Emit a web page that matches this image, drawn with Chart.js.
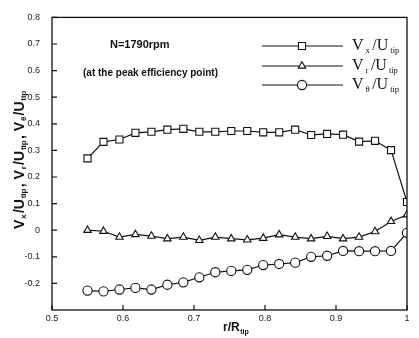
<!DOCTYPE html>
<html>
<head>
<meta charset="utf-8">
<script src="https://cdn.jsdelivr.net/npm/chart.js@4/dist/chart.umd.min.js"></script>
<style>
  html, body { margin: 0; padding: 0; background: #fff; }
  #wrap { width: 419px; height: 338px; }
</style>
</head>
<body>
<div id="wrap"><canvas id="profileChart" width="419" height="338"></canvas></div>
<script>
// radial stations r/R_tip
const radius = [0.55, 0.5725, 0.595, 0.6175, 0.64, 0.6625, 0.685, 0.7075, 0.73, 0.7525,
    0.775, 0.7975, 0.82, 0.8425, 0.865, 0.8875, 0.91, 0.9325, 0.955, 0.9775, 1.0];

// axial velocity Vx/Utip
const vx = [0.27, 0.332, 0.341, 0.366, 0.37, 0.378, 0.381, 0.37, 0.37, 0.373,
    0.373, 0.368, 0.368, 0.378, 0.358, 0.362, 0.359, 0.333, 0.336, 0.301, 0.106];

// radial velocity Vr/Utip
const vr = [0.0, -0.004, -0.026, -0.016, -0.022, -0.032, -0.026, -0.038, -0.026, -0.032,
    -0.036, -0.03, -0.017, -0.026, -0.032, -0.023, -0.032, -0.026, -0.005, 0.033, 0.058];

// tangential velocity Vtheta/Utip
const vt = [-0.227, -0.23, -0.223, -0.217, -0.223, -0.205, -0.196, -0.177, -0.158, -0.153,
    -0.149, -0.131, -0.127, -0.122, -0.1, -0.096, -0.078, -0.079, -0.079, -0.078, -0.01];

const xTicks = [0.5, 0.6, 0.7, 0.8, 0.9, 1];
const yTicks = [-0.2, -0.1, 0, 0.1, 0.2, 0.3, 0.4, 0.5, 0.6, 0.7, 0.8];

const seriesNames = [
    [['V', 0], ['x', 1], ['/U', 0], ['tip', 1]],
    [['V', 0], ['r', 1], ['/U', 0], ['tip', 1]],
    [['V', 0], ['\u03b8', 1], ['/U', 0], ['tip', 1]]
];
const pointStyles = ['rect', 'triangle', 'circle'];
const pointSizes = [5, 4.3, 4.6];

const ink = '#111';

function toPoints(ys) {
    return radius.map((r, i) => ({ x: r, y: ys[i] }));
}

// draw text with subscript pieces; returns width
function drawSub(ctx, parts, x, y, big, small, family, weight, gap) {
    let cx = x;
    parts.forEach(([t, sub]) => {
        ctx.font = (weight || '') + ' ' + (sub ? small : big) + 'px ' + family;
        ctx.fillText(t, cx, sub ? y + big * 0.3 : y);
        cx += ctx.measureText(t).width + (gap || 0) + (sub ? 0.5 : 0);
    });
    return cx - x;
}

const decorPlugin = {
    id: 'decor',
    afterDraw(chart) {
        const ctx = chart.ctx;
        const a = chart.chartArea;
        const xs = chart.scales.x, ys = chart.scales.y;
        ctx.save();
        ctx.strokeStyle = ink;
        ctx.lineWidth = 1.3;
        ctx.strokeRect(a.left, a.top, a.right - a.left, a.bottom - a.top);

        // inward tick marks
        ctx.lineWidth = 1.2;
        ctx.beginPath();
        xTicks.forEach(v => {
            const px = xs.getPixelForValue(v);
            ctx.moveTo(px, a.bottom); ctx.lineTo(px, a.bottom - 5);
        });
        yTicks.forEach(v => {
            const py = ys.getPixelForValue(v);
            ctx.moveTo(a.left, py); ctx.lineTo(a.left + 5, py);
        });
        ctx.stroke();

        // annotation text
        ctx.fillStyle = ink;
        ctx.textBaseline = 'middle';
        ctx.textAlign = 'left';
        ctx.font = 'bold 11px "Liberation Sans", Arial, sans-serif';
        ctx.fillText('N=1790rpm', 110, 45);
        ctx.font = 'bold 10px "Liberation Sans", Arial, sans-serif';
        ctx.fillText('(at the peak efficiency point)', 83, 73);

        // legend
        const rows = [46, 66, 85];
        rows.forEach((ry, i) => {
            ctx.strokeStyle = ink;
            ctx.lineWidth = 1;
            ctx.beginPath();
            ctx.moveTo(262, ry); ctx.lineTo(343, ry);
            ctx.stroke();
            ctx.fillStyle = '#fff';
            ctx.lineWidth = 1.1;
            Chart.helpers.drawPoint(ctx, {
                pointStyle: pointStyles[i], radius: pointSizes[i], borderWidth: 1.1
            }, 302, ry);
            ctx.fillStyle = ink;
            ctx.textBaseline = 'middle';
            drawSub(ctx, seriesNames[i], 352, ry, 16, 8.5, '"Liberation Serif", "Times New Roman", serif', '', 2);
        });

        // x axis title
        ctx.textBaseline = 'middle';
        drawSub(ctx, [['r/R', 0], ['tip', 1]], 223, 328, 12, 7, '"Liberation Sans", Arial, sans-serif', 'bold', 0.5);

        // y axis title, rotated
        ctx.save();
        ctx.translate(20, 229);
        ctx.rotate(-Math.PI / 2);
        const yTitle = [['V', 0], ['x', 1], ['/U', 0], ['tip', 1], [', V', 0], ['r', 1], ['/U', 0], ['tip', 1],
            [', V', 0], ['\u03b8', 1], ['/U', 0], ['tip', 1]];
        drawSub(ctx, yTitle, 0, 0, 14, 8, '"Liberation Sans", Arial, sans-serif', 'bold', 0.8);
        ctx.restore();
        ctx.restore();
    }
};

const ctx = document.getElementById('profileChart').getContext('2d');
new Chart(ctx, {
    type: 'line',
    data: {
        datasets: [vx, vr, vt].map((ys, i) => ({
            label: seriesNames[i].map(p => p[0]).join(''),
            data: toPoints(ys),
            borderColor: ink,
            borderWidth: 1.2,
            backgroundColor: '#fff',
            pointStyle: pointStyles[i],
            pointRadius: pointSizes[i],
            pointBorderWidth: 1.1,
            pointBorderColor: ink,
            pointBackgroundColor: '#fff',
            tension: 0
        }))
    },
    options: {
        responsive: false,
        animation: false,
        layout: { padding: { top: 13, right: 12, left: 0, bottom: 0 } },
        plugins: {
            legend: { display: false },
            tooltip: { enabled: false }
        },
        scales: {
            x: {
                type: 'linear',
                min: 0.5,
                max: 1,
                afterBuildTicks: s => { s.ticks = xTicks.map(v => ({ value: v })); },
                afterFit: s => { s.height = 28; },
                grid: { display: false, drawTicks: false },
                border: { display: false },
                ticks: {
                    padding: 3,
                    color: '#222',
                    font: { family: '"Liberation Sans", Arial, sans-serif', size: 9 },
                    callback: v => String(v)
                }
            },
            y: {
                type: 'linear',
                min: -0.3,
                max: 0.8,
                afterBuildTicks: s => { s.ticks = yTicks.map(v => ({ value: v })); },
                afterFit: s => { s.width = 52; },
                grid: { display: false, drawTicks: false },
                border: { display: false },
                ticks: {
                    padding: 12,
                    color: '#222',
                    font: { family: '"Liberation Sans", Arial, sans-serif', size: 9 },
                    callback: v => String(Math.round(v * 10) / 10)
                }
            }
        }
    },
    plugins: [decorPlugin]
});
</script>
</body>
</html>
